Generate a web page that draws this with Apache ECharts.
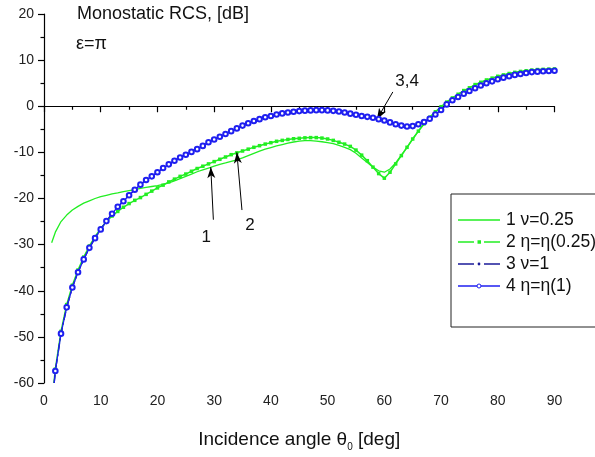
<!DOCTYPE html>
<html><head><meta charset="utf-8">
<script src="https://cdn.jsdelivr.net/npm/echarts@6/dist/echarts.min.js"></script>
<style>html,body{margin:0;padding:0;background:#fff}#c{width:595px;height:457px}</style>
</head><body><div id="c"></div>
<script>
// Incidence angles (deg) shared by all curves
const theta = [2,3,4,5,6,7,8,9,10,11,12,13,14,15,16,17,18,19,20,21,22,23,24,25,26,27,28,29,30,
  31,32,33,34,35,36,37,38,39,40,41,42,43,44,45,46,47,48,49,50,51,52,53,54,55,56,57,58,59,60,
  61,62,63,64,65,66,67,68,69,70,71,72,73,74,75,76,77,78,79,80,81,82,83,84,85,86,87,88,89,90];

// Curve 1: nu = 0.25
const nu025Start = [1.35, -29.6];
const nu025 = [-27.3,-25.0,-23.6,-22.5,-21.7,-21.0,-20.5,-20.0,-19.6,-19.3,-19.0,-18.8,-18.5,-18.3,-18.1,-17.8,-17.6,-17.4,-17.2,-16.95,
  -16.6,-16.2,-15.7,-15.2,-14.7,-14.2,-13.8,-13.4,-13.0,-12.6,-12.3,-11.95,-11.6,-11.2,-10.7,-10.2,-9.75,-9.3,-8.95,
  -8.6,-8.3,-8.0,-7.75,-7.55,-7.45,-7.45,-7.55,-7.7,-7.9,-8.1,-8.5,-8.9,-9.4,-10.2,-11.2,-12.2,-13.2,-14.0,-14.3,
  -13.6,-12.3,-10.6,-8.9,-7.1,-5.4,-3.85,-2.45,-1.25,-0.15,0.85,1.75,2.55,3.35,3.95,4.65,5.15,5.65,6.05,6.45,
  6.75,7.05,7.3,7.5,7.65,7.8,7.9,7.95,8.0,8.05];

// Curve 2: eta = eta(0.25)
const eta025Start = [1.75, -60];
const eta025 = [-57.0,-48.8,-43.0,-38.8,-35.5,-32.7,-30.3,-28.3,-26.5,-25.0,-23.8,-22.8,-21.9,-21.1,-20.4,-19.8,-19.1,-18.4,-17.7,
  -17.1,-16.4,-15.8,-15.2,-14.7,-14.1,-13.5,-13.0,-12.5,-12.0,-11.5,-11.0,-10.5,-10.1,-9.7,-9.3,-8.9,-8.55,-8.2,-7.9,
  -7.6,-7.4,-7.2,-7.05,-6.95,-6.85,-6.8,-6.8,-6.9,-7.1,-7.4,-7.8,-8.2,-8.7,-9.5,-10.6,-11.8,-13.2,-14.6,-15.6,
  -14.3,-12.5,-10.7,-8.9,-7.1,-5.4,-3.8,-2.4,-1.2,-0.1,0.9,1.8,2.6,3.4,4.0,4.7,5.2,5.7,6.1,6.5,
  6.8,7.1,7.35,7.55,7.7,7.85,7.95,8.0,8.05,8.1];

// Curve 4: eta = eta(1)
const eta1Start = [1.8, -60];
const eta1 = [-57.4,-49.3,-43.6,-39.3,-36.0,-33.2,-30.7,-28.6,-26.7,-24.9,-23.3,-21.8,-20.6,-19.3,-18.1,-17.0,-16.0,-15.2,-14.3,
  -13.4,-12.6,-11.8,-11.1,-10.5,-9.9,-9.3,-8.6,-7.8,-7.2,-6.6,-6.0,-5.4,-4.8,-4.2,-3.7,-3.2,-2.8,-2.4,-2.1,
  -1.8,-1.55,-1.35,-1.2,-1.05,-0.95,-0.9,-0.85,-0.85,-0.9,-1.0,-1.15,-1.35,-1.6,-1.85,-2.1,-2.3,-2.5,-2.8,-3.1,
  -3.5,-3.9,-4.2,-4.4,-4.3,-3.9,-3.4,-2.7,-1.8,-0.8,0.4,1.3,2.0,2.7,3.3,3.9,4.5,5.0,5.4,5.85,
  6.2,6.5,6.8,7.0,7.2,7.4,7.5,7.6,7.65,7.7];

// Curve 3: nu = 1 (coincides with curve 4 on the picture)
const nu1Start = [1.8, -60];
const nu1 = eta1.slice();

const seriesNames = ['1 \u03bd=0.25', '2 \u03b7=\u03b7(0.25)', '3 \u03bd=1', '4 \u03b7=\u03b7(1)'];

function pairs(start, vals) {
  const out = [{value: start, symbol: 'none'}];
  vals.forEach((v, i) => out.push([theta[i], v]));
  return out;
}

const chart = echarts.init(document.getElementById('c'), null, {renderer: 'canvas'});
const FONT = 'Liberation Sans, Arial, sans-serif';
const GREEN = '#22ee22';
const BLUE = '#1f1ff0';
const NAVY = '#1a1a99';

chart.setOption({
  animation: false,
  backgroundColor: '#fff',
  textStyle: {fontFamily: FONT},
  grid: {left: 44, right: 40.5, top: 14, bottom: 69.5, containLabel: false},
  xAxis: {
    type: 'value', min: 0, max: 90, interval: 10,
    axisLine: {show: true, lineStyle: {color: '#000', width: 1.2}},
    axisTick: {show: true, inside: false, length: 6, lineStyle: {color: '#000', width: 1.2}},
    minorTick: {show: true, splitNumber: 2, length: 3.5, lineStyle: {color: '#000', width: 1.2}},
    splitLine: {show: false},
    axisLabel: {color: '#222', fontSize: 14, margin: 11, fontFamily: FONT},
    name: '{a|Incidence angle \u03b8}{s|0}{a| [deg]}',
    nameLocation: 'middle', nameGap: 45,
    nameTextStyle: {rich: {
      a: {fontSize: 19, color: '#111', fontFamily: FONT},
      s: {fontSize: 10, color: '#111', fontFamily: FONT, padding: [14, 0, 0, 0]}
    }}
  },
  yAxis: {
    type: 'value', min: -60, max: 20, interval: 10,
    axisLine: {show: true, lineStyle: {color: '#000', width: 1.2}},
    axisTick: {show: true, inside: false, length: 6, lineStyle: {color: '#000', width: 1.2}},
    minorTick: {show: true, splitNumber: 2, length: 3.5, lineStyle: {color: '#000', width: 1.2}},
    splitLine: {show: false},
    axisLabel: {color: '#222', fontSize: 14, margin: 10, fontFamily: FONT}
  },
  legend: {show: false, data: seriesNames},
  series: [
    {
      name: seriesNames[0], type: 'line', data: pairs(nu025Start, nu025),
      showSymbol: false, symbol: 'none', z: 2,
      lineStyle: {color: GREEN, width: 1.3}, itemStyle: {color: GREEN}
    },
    {
      name: seriesNames[1], type: 'line', data: pairs(eta025Start, eta025),
      symbol: 'rect', symbolSize: 3.5, showAllSymbol: true, z: 3,
      lineStyle: {color: GREEN, width: 1.5}, itemStyle: {color: GREEN}
    },
    {
      name: seriesNames[2], type: 'line', data: pairs(nu1Start, nu1),
      symbol: 'circle', symbolSize: 2.5, showAllSymbol: true, z: 4,
      lineStyle: {color: NAVY, width: 1.4, type: [8, 3, 2, 3]}, itemStyle: {color: NAVY}
    },
    {
      name: seriesNames[3], type: 'line', data: pairs(eta1Start, eta1),
      symbol: 'emptyCircle', symbolSize: 4.6, showAllSymbol: true, z: 5,
      lineStyle: {color: BLUE, width: 1.3}, itemStyle: {color: BLUE, borderColor: BLUE, borderWidth: 0.9},
      markLine: {
        silent: true, animation: false,
        symbol: ['none', 'arrow'], symbolSize: [6, 11],
        label: {show: false},
        lineStyle: {color: '#000', width: 1, type: 'solid'},
        data: [
          [{coord: [29.86, -24.6]}, {coord: [29.4, -13.2]}],
          [{coord: [34.9, -22.5]}, {coord: [34.0, -10.0]}],
          [{coord: [61.5, 3.1]}, {coord: [58.7, -2.8]}]
        ]
      }
    }
  ]
});

const annotations = [
  {text: '1', at: [28.6, -28.4]},
  {text: '2', at: [36.3, -25.8]},
  {text: '3,4', at: [64.0, 5.4]}
];
const gfx = annotations.map(a => {
  const p = chart.convertToPixel({gridIndex: 0}, a.at);
  return {type: 'text', x: p[0], y: p[1], z: 10, style: {text: a.text, fontSize: 17, fontFamily: FONT, fill: '#111', align: 'center', verticalAlign: 'middle'}};
});
gfx.push({type: 'text', left: 77, top: 5, z: 10, style: {text: 'Monostatic RCS, [dB]', fontSize: 18, fontFamily: FONT, fill: '#111'}});
gfx.push({type: 'text', left: 76, top: 35, z: 10, style: {text: '\u03b5=\u03c0', fontSize: 18, fontFamily: FONT, fill: '#111'}});

// Legend box (extends past the right edge as in the original)
const LX = 451, LY = 194;
gfx.push({type: 'rect', z: 20, shape: {x: LX, y: LY, width: 170, height: 133}, style: {fill: '#fff', stroke: '#222', lineWidth: 1}});
const rowY = [220, 242, 264, 286];
const legendStyles = [
  {color: GREEN, split: false, sym: null},
  {color: GREEN, split: true, sym: 'rect'},
  {color: NAVY, split: true, sym: 'dot'},
  {color: BLUE, split: false, sym: 'ring'}
];
legendStyles.forEach((s, i) => {
  const y = rowY[i];
  if (s.split) {
    gfx.push({type: 'line', z: 21, shape: {x1: 458, y1: y, x2: 474, y2: y}, style: {stroke: s.color, lineWidth: 1.5}});
    gfx.push({type: 'line', z: 21, shape: {x1: 484, y1: y, x2: 500, y2: y}, style: {stroke: s.color, lineWidth: 1.5}});
  } else {
    gfx.push({type: 'line', z: 21, shape: {x1: 458, y1: y, x2: 500, y2: y}, style: {stroke: s.color, lineWidth: 1.5}});
  }
  if (s.sym === 'rect') gfx.push({type: 'rect', z: 22, shape: {x: 477.5, y: y - 1.75, width: 3.5, height: 3.5}, style: {fill: s.color}});
  if (s.sym === 'dot') gfx.push({type: 'circle', z: 22, shape: {cx: 479, cy: y, r: 1.4}, style: {fill: s.color}});
  if (s.sym === 'ring') gfx.push({type: 'circle', z: 22, shape: {cx: 479, cy: y, r: 2}, style: {fill: '#fff', stroke: s.color, lineWidth: 1}});
  gfx.push({type: 'text', z: 22, x: 506, y: y, style: {text: seriesNames[i], fontSize: 17.5, fontFamily: FONT, fill: '#111', verticalAlign: 'middle'}});
});
chart.setOption({graphic: gfx});
</script></body></html>
